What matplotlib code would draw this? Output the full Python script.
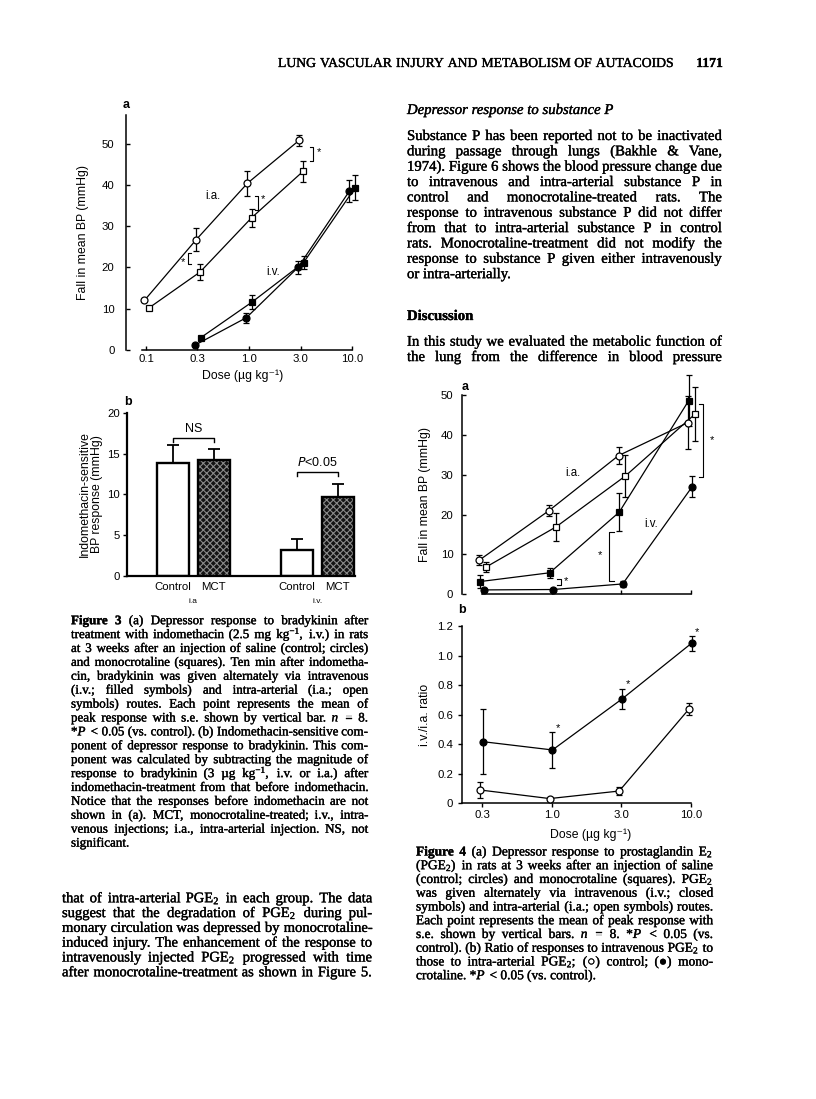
import numpy as np
import matplotlib
matplotlib.use("Agg")
import matplotlib.pyplot as plt
import matplotlib.patheffects as pe
from matplotlib.transforms import blended_transform_factory

plt.rcParams.update({
    "mathtext.fontset": "custom",
    "mathtext.rm": "Liberation Serif",
    "mathtext.it": "Liberation Serif:italic",
    "mathtext.bf": "Liberation Serif:bold",
    "axes.linewidth": 1.1,
    "hatch.linewidth": 0.8,
})

SANS = ["Liberation Sans", "DejaVu Sans"]
SERIF = ["Liberation Serif", "DejaVu Sans"]
TICK = 8.2
LAB = 8.8
INK = [pe.withStroke(linewidth=0.25, foreground="black")]   # scanned print looks heavier

# ---------------- data: Figure 3 ----------------
doses3 = ["0.1", "0.3", "1.0", "3.0", "10.0"]
ctrl_ia3 = [12.0, 26.7, 40.5, 50.9]          # doses 0.1 .. 3.0
ctrl_ia3_se = [0.0, 2.8, 3.0, 1.4]
mct_ia3 = [10.1, 18.9, 32.1, 43.4]
mct_ia3_se = [0.0, 2.0, 2.2, 2.6]
ctrl_iv3 = [1.1, 7.8, 20.0, 38.6]            # doses 0.3 .. 10.0
ctrl_iv3_se = [0.0, 1.2, 1.7, 2.7]
mct_iv3 = [2.9, 11.6, 21.2, 39.4]
mct_iv3_se = [0.0, 1.7, 1.6, 3.0]

bar_labels = ["Control", "MCT", "Control", "MCT"]
bar_groups = ["i.a", "i.v."]
bar_vals = [13.85, 14.26, 3.18, 9.65]
bar_se = [2.15, 1.3, 1.38, 1.63]

# ---------------- data: Figure 4 ----------------
doses4 = ["0.3", "1.0", "3.0", "10.0"]
ctrl_ia4 = [8.6, 21.0, 34.8, 43.1]
ctrl_ia4_se = [1.2, 1.4, 2.1, 6.6]
mct_ia4 = [6.9, 16.9, 29.7, 45.2]
mct_ia4_se = [1.3, 3.6, 5.2, 6.7]
ctrl_iv4 = [1.1, 1.2, 2.6, 27.0]
ctrl_iv4_se = [0.0, 0.0, 0.8, 2.7]
mct_iv4 = [3.2, 5.4, 20.6, 48.6]
mct_iv4_se = [1.6, 1.2, 4.7, 6.4]

ratio_mct = [0.417, 0.361, 0.706, 1.083]
ratio_mct_se = [0.22, 0.12, 0.069, 0.049]
ratio_ctrl = [0.09, 0.032, 0.083, 0.636]
ratio_ctrl_se = [0.057, 0.0, 0.026, 0.04]

W, H = 816, 1099
fig = plt.figure(figsize=(W / 100, H / 100), dpi=100)


def axes_px(l, t, r, b):
    return fig.add_axes([l / W, 1 - b / H, (r - l) / W, (b - t) / H])


def series(ax, x, y, se, marker, filled, dx):
    x = np.asarray(x, float) + dx
    ax.plot(x, y, "-", color="k", lw=0.9, zorder=1, clip_on=False)
    ax.errorbar(x, y, yerr=se, fmt="none", ecolor="k", elinewidth=0.9,
                capsize=2.4, capthick=0.9, zorder=2, clip_on=False)
    ax.plot(x, y, ls="none", marker=marker, ms=5.0, mew=0.9, mec="k",
            mfc="k" if filled else "white", zorder=3, clip_on=False)


def bracket(ax, x, y0, y1, arm, star_dx, star_y):
    ax.plot([x - arm, x, x, x - arm], [y0, y0, y1, y1], color="k", lw=0.8, clip_on=False)
    ax.text(x + star_dx, star_y, "*", ha="center", va="center", fontsize=8, family=SANS)


def style_axes(ax):
    for s in ("top", "right"):
        ax.spines[s].set_visible(False)
    ax.tick_params(labelsize=TICK, width=1.0, length=3)
    for lab in ax.get_xticklabels() + ax.get_yticklabels():
        lab.set_family(SANS)


# ---------------- Figure 3a ----------------
ax = axes_px(125.7, 115, 360, 349.7)
ax.set_xlim(-0.394, 4.155)
ax.set_ylim(0, 57.1)
series(ax, range(0, 4), ctrl_ia3, ctrl_ia3_se, "o", False, -0.03)
series(ax, range(0, 4), mct_ia3, mct_ia3_se, "s", False, 0.05)
series(ax, range(1, 5), ctrl_iv3, ctrl_iv3_se, "o", True, -0.05)
series(ax, range(1, 5), mct_iv3, mct_iv3_se, "s", True, 0.06)
ax.set_xticks(range(len(doses3)), doses3)
ax.set_yticks(range(0, 51, 10))
style_axes(ax)
ax.tick_params(axis="x", direction="in", pad=3)
ax.tick_params(axis="y", direction="in", pad=8)
ax.spines["bottom"].set_bounds(-0.08, 4)
ax.set_xlabel("Dose (\u00b5g kg\u207b\u00b9)", family=SANS, fontsize=LAB, labelpad=4)
ax.set_ylabel("Fall in mean BP (mmHg)", family=SANS, fontsize=LAB, labelpad=9)
bracket(ax, 3.25, 45.8, 49.4, 0.06, 0.1, 48.0)
bracket(ax, 2.18, 34.0, 37.4, 0.06, 0.1, 36.6)
bracket(ax, 0.82, 20.9, 23.6, -0.06, -0.1, 21.4)
ax.text(1.3, 37.3, "i.a.", ha="center", va="center", fontsize=8.3, family=SANS)
ax.text(2.47, 19.0, "i.v.", ha="center", va="center", fontsize=8.3, family=SANS)
fig.text(125.7 / W, 1 - 105 / H, "a", fontsize=9, fontweight="bold", family=SANS,
         ha="center", va="center")

# ---------------- Figure 3b ----------------
ax = axes_px(126.7, 412.7, 362, 576.3)
ax.set_xlim(-1.124, 4.61)
ax.set_ylim(0, 20)
pos = [0, 1, 3.03, 4.02]
for i, (p, v) in enumerate(zip(pos, bar_vals)):
    if bar_labels[i] == "MCT":
        ax.bar(p, v, width=0.78, color="#141414", edgecolor="#8a8a8a", hatch="xxxxx", lw=0, zorder=1)
        ax.bar(p, v, width=0.78, fill=False, edgecolor="k", lw=1.7, zorder=2)
    else:
        ax.bar(p, v, width=0.78, color="white", edgecolor="k", lw=1.7, zorder=2)
ax.errorbar(pos, bar_vals, yerr=[[0] * 4, bar_se], fmt="none", ecolor="k",
            elinewidth=1.3, capsize=4.5, capthick=1.3, zorder=3)
ax.set_xticks([])
ax.set_yticks(range(0, 21, 5))
style_axes(ax)
ax.tick_params(axis="y", direction="out", pad=2)
ax.spines["bottom"].set_bounds(-1.124, 4.44)
ax.spines["left"].set_linewidth(1.6)
ax.spines["bottom"].set_linewidth(1.6)
ax.set_ylabel("Indomethacin-sensitive\nBP response (mmHg)", family=SANS, fontsize=LAB,
              labelpad=3, linespacing=1.0)
tb = blended_transform_factory(ax.transData, ax.transAxes)
for p, lab in zip(pos, bar_labels):
    ax.annotate(lab, xy=(p, 0), xycoords=tb, xytext=(0, -4), textcoords="offset points",
                ha="center", va="top", fontsize=TICK, family=SANS)
for g, p in zip(bar_groups, [(pos[0] + pos[1]) / 2, (pos[2] + pos[3]) / 2]):
    ax.annotate(g, xy=(p, 0), xycoords=tb, xytext=(0, -15.5), textcoords="offset points",
                ha="center", va="top", fontsize=6, family=SANS)
ax.plot([pos[0], pos[0], pos[1], pos[1]], [16.45, 16.86, 16.86, 16.45], color="k", lw=1.0)
ax.text((pos[0] + pos[1]) / 2, 17.3, "NS", ha="center", va="bottom", fontsize=9, family=SANS)
ax.plot([pos[2], pos[2], pos[3], pos[3]], [12.26, 12.7, 12.7, 12.26], color="k", lw=1.0)
ax.text((pos[2] + pos[3]) / 2, 13.1, "$\\it{P}$<0.05", ha="center", va="bottom",
        fontsize=9, family=SANS, math_fontfamily="dejavusans")
fig.text(128 / W, 1 - 402 / H, "b", fontsize=9, fontweight="bold", family=SANS,
         ha="center", va="center")

# ---------------- Figure 4a ----------------
ax = axes_px(461.7, 395, 720, 594.3)
ax.set_xlim(-0.296, 3.42)
ax.set_ylim(0, 50)
x4 = range(len(doses4))
series(ax, x4, ctrl_ia4, ctrl_ia4_se, "o", False, -0.04)
series(ax, x4, mct_ia4, mct_ia4_se, "s", False, 0.06)
series(ax, x4, ctrl_iv4, ctrl_iv4_se, "o", True, 0.02)
series(ax, x4, mct_iv4, mct_iv4_se, "s", True, -0.03)
ax.set_xticks(list(x4), [""] * len(doses4))
ax.set_yticks(range(0, 51, 10))
style_axes(ax)
ax.tick_params(axis="x", direction="in")
ax.tick_params(axis="y", direction="in", pad=6)
ax.spines["bottom"].set_bounds(0, 3)
ax.set_ylabel("Fall in mean BP (mmHg)", family=SANS, fontsize=LAB, labelpad=7)
bracket(ax, 3.18, 29.5, 47.7, 0.06, 0.12, 38.7)
bracket(ax, 1.83, 3.3, 15.7, -0.06, -0.14, 9.9)
bracket(ax, 1.13, 2.3, 3.8, 0.05, 0.08, 3.2)
ax.text(1.3, 30.4, "i.a.", ha="center", va="center", fontsize=8.3, family=SANS)
ax.text(2.43, 17.6, "i.v.", ha="center", va="center", fontsize=8.3, family=SANS)
fig.text(465 / W, 1 - 386.7 / H, "a", fontsize=9, fontweight="bold", family=SANS,
         ha="center", va="center")

# ---------------- Figure 4b ----------------
ax = axes_px(461.7, 626, 720, 803.3)
ax.set_xlim(-0.296, 3.42)
ax.set_ylim(0, 1.2)
series(ax, x4, ratio_mct, ratio_mct_se, "o", True, 0.01)
series(ax, x4, ratio_ctrl, ratio_ctrl_se, "o", False, -0.03)
for i, yv in enumerate(ratio_mct):
    if i > 0:
        ax.text(i + 0.09, yv + ratio_mct_se[i] + 0.03, "*", ha="center", va="center",
                fontsize=8, family=SANS)
ax.set_xticks(list(x4), doses4)
ax.set_yticks(np.arange(0, 1.21, 0.2), ["0", "0.2", "0.4", "0.6", "0.8", "1.0", "1.2"])
style_axes(ax)
ax.tick_params(axis="x", direction="out", pad=2)
ax.tick_params(axis="y", direction="out", pad=3)
ax.spines["bottom"].set_bounds(-0.296, 3)
ax.set_ylabel("i.v./i.a. ratio", family=SANS, fontsize=LAB, labelpad=5)
ax.set_xlabel("Dose (\u00b5g kg\u207b\u00b9)", family=SANS, fontsize=LAB, labelpad=6)
fig.text(461.7 / W, 1 - 610 / H, "b", fontsize=9, fontweight="bold", family=SANS,
         ha="center", va="center")

# ---------------- page text ----------------
renderer = fig.canvas.get_renderer()


def make_words(line, size, kw):
    objs = []
    for tok in line.split():
        opts = dict(fontsize=size, family=SERIF, va="baseline", ha="left", path_effects=INK)
        opts.update(kw)
        if tok.startswith("#"):
            tok = tok[1:]
            opts["fontweight"] = "bold"
        objs.append(fig.text(0, 0, tok, **opts))
    return objs, [o.get_window_extent(renderer).width for o in objs]


def space_width(size, kw):
    t = fig.text(0, 0, "a a", fontsize=size, family=SERIF, **kw)
    t2 = fig.text(0, 0, "aa", fontsize=size, family=SERIF, **kw)
    sp = t.get_window_extent(renderer).width - t2.get_window_extent(renderer).width
    t.remove(); t2.remove()
    return sp


def put_lines(lines, x0, x1, y0, dy, last_left=True, base=4.0, size=None, **kw):
    # pick the font size so that the tightest justified line has normal spacing
    if size is None:
        s0 = 10.0
        sp = space_width(s0, kw)
        fits = []
        for i, line in enumerate(lines):
            if last_left and i == len(lines) - 1 and len(lines) > 1:
                continue
            objs, ws = make_words(line, s0, kw)
            for o in objs:
                o.remove()
            fits.append((x1 - x0) / (sum(ws) + sp * (len(ws) - 1)))
        size = s0 * min(fits) * 0.995
    space = space_width(size, kw)
    for i, line in enumerate(lines):
        objs, ws = make_words(line, size, kw)
        gap = space
        if len(objs) > 1 and not (last_left and i == len(lines) - 1):
            gap = (x1 - x0 - sum(ws)) / (len(objs) - 1)
        x = x0
        y = y0 + i * dy + base
        for o, w in zip(objs, ws):
            o.set_position((x / W, 1 - y / H))
            x += w + gap
    return size


hs = put_lines(["LUNG VASCULAR INJURY AND METABOLISM OF AUTACOIDS"], 278, 673, 63, 0,
               last_left=False)
fig.text(723 / W, 1 - 67 / H, "1171", fontsize=hs, fontweight="bold", family=SERIF,
         ha="right", va="baseline", path_effects=INK)

body = put_lines([
    "Substance P has been reported not to be inactivated",
    "during passage through lungs (Bakhle & Vane,",
    "1974). Figure 6 shows the blood pressure change due",
    "to intravenous and intra-arterial substance P in",
    "control and monocrotaline-treated rats. The",
    "response to intravenous substance P did not differ",
    "from that to intra-arterial substance P in control",
    "rats. Monocrotaline-treatment did not modify the",
    "response to substance P given either intravenously",
    "or intra-arterially.",
], 407, 722, 136, 15.35)
put_lines(["Depressor response to substance P"], 407, 720, 110, 0, size=body, fontstyle="italic")
put_lines(["#Discussion"], 407, 720, 316, 0, size=body)
put_lines([
    "In this study we evaluated the metabolic function of",
    "the lung from the difference in blood pressure",
], 407, 722, 341.7, 15.35, last_left=False, size=body)

put_lines([
    "#Figure #3 (a) Depressor response to bradykinin after",
    "treatment with indomethacin (2.5 mg kg$^{-1}$, i.v.) in rats",
    "at 3 weeks after an injection of saline (control; circles)",
    "and monocrotaline (squares). Ten min after indometha-",
    "cin, bradykinin was given alternately via intravenous",
    "(i.v.; filled symbols) and intra-arterial (i.a.; open",
    "symbols) routes. Each point represents the mean of",
    "peak response with s.e. shown by vertical bar. $n$ = 8.",
    "*$P$ < 0.05 (vs. control). (b) Indomethacin-sensitive com-",
    "ponent of depressor response to bradykinin. This com-",
    "ponent was calculated by subtracting the magnitude of",
    "response to bradykinin (3 \u00b5g kg$^{-1}$, i.v. or i.a.) after",
    "indomethacin-treatment from that before indomethacin.",
    "Notice that the responses before indomethacin are not",
    "shown in (a). MCT, monocrotaline-treated; i.v., intra-",
    "venous injections; i.a., intra-arterial injection. NS, not",
    "significant.",
], 71, 368, 620.7, 13.9, base=3.5)

put_lines([
    "that of intra-arterial PGE$_2$ in each group. The data",
    "suggest that the degradation of PGE$_2$ during pul-",
    "monary circulation was depressed by monocrotaline-",
    "induced injury. The enhancement of the response to",
    "intravenously injected PGE$_2$ progressed with time",
    "after monocrotaline-treatment as shown in Figure 5.",
], 62, 372, 898.3, 14.8, last_left=False)

put_lines([
    "#Figure #4 (a) Depressor response to prostaglandin E$_2$",
    "(PGE$_2$) in rats at 3 weeks after an injection of saline",
    "(control; circles) and monocrotaline (squares). PGE$_2$",
    "was given alternately via intravenous (i.v.; closed",
    "symbols) and intra-arterial (i.a.; open symbols) routes.",
    "Each point represents the mean of peak response with",
    "s.e. shown by vertical bars. $n$ = 8. *$P$ < 0.05 (vs.",
    "control). (b) Ratio of responses to intravenous PGE$_2$ to",
    "those to intra-arterial PGE$_2$; (\u25cb) control; (\u25cf) mono-",
    "crotaline. *$P$ < 0.05 (vs. control).",
], 416, 713, 852, 13.75, base=3.5)

fig.savefig("out.png", dpi=100)
